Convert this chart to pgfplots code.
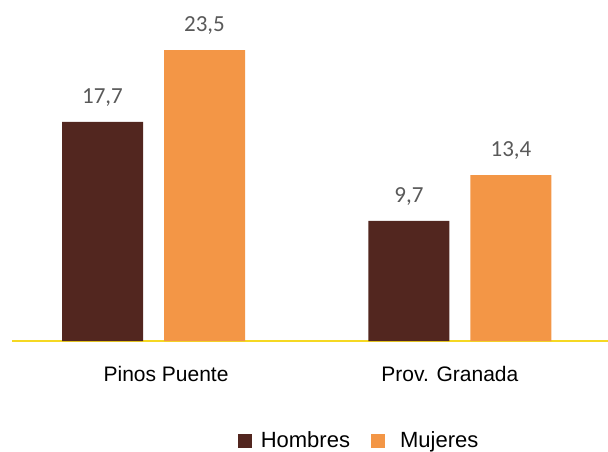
\documentclass[border=0pt]{standalone}
\usepackage{pgfplots}
\pgfplotsset{compat=1.18}
\usepackage{fontspec}
\setmainfont{Liberation Sans}
\newfontfamily\valfont{Carlito}
\definecolor{hombres}{HTML}{52261F}
\definecolor{mujeres}{HTML}{F39646}
\definecolor{baseline}{HTML}{F5D823}
\definecolor{valgray}{HTML}{595959}

\begin{document}
\begin{tikzpicture}
  \useasboundingbox (0,0) rectangle (304pt,225.5pt);
  \begin{axis}[
      at={(6pt,55pt)}, anchor=south west,
      scale only axis, width=298pt, height=148.5pt,
      ybar, bar width=40.5pt,
      xmin=-0.4617, xmax=1.483, ymin=0, ymax=24,
      axis y line=none, axis x line*=bottom,
      x axis line style={draw=baseline, line width=1pt, -},
      xtick={0.041,0.967}, xticklabels={Pinos Puente, Prov. Granada},
      major tick length=0pt,
      xticklabel style={font=\fontsize{10.5}{12}\selectfont, inner sep=0pt, anchor=north, yshift=-12.5pt},
      nodes near coords={\pgfmathprintnumber[assume math mode=true, use comma, fixed, fixed zerofill, precision=1]{\pgfplotspointmeta}},
      nodes near coords style={font=\valfont\fontsize{11.5}{13}\selectfont, text=valgray, anchor=south, inner sep=0pt, yshift=7.5pt},
      legend columns=2,
      legend style={at={(0.584,-0.337)}, anchor=center, draw=none, fill=none,
        font=\fontsize{11}{13}\selectfont,
        /tikz/every even column/.append style={column sep=8.5pt},
        /tikz/every odd column/.append style={column sep=2.5pt}},
      legend image code/.code={\fill[#1, draw=none] (0pt,-3.5pt) rectangle (7pt,3.5pt);},
    ]
    \addplot[fill=hombres, draw=none, bar shift=-25.5pt] coordinates {(0,17.7) (1,9.7)};
    \addplot[fill=mujeres, draw=none, bar shift=25.5pt] coordinates {(0,23.5) (1,13.4)};
    \legend{Hombres, \ Mujeres}
  \end{axis}
\end{tikzpicture}
\end{document}
